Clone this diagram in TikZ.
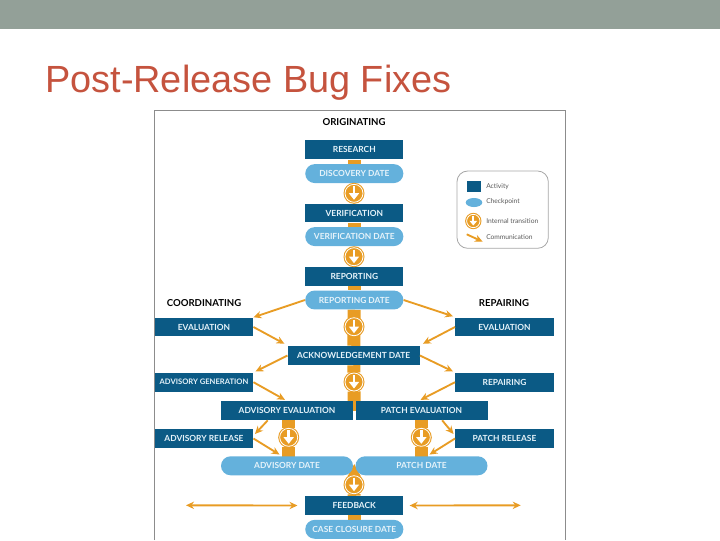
\documentclass[tikz,border=0pt]{standalone}
\usepackage{fontspec}
\setmainfont{Lato}
\newfontfamily\titlefont{Liberation Sans}
\usepackage{xcolor}
\usetikzlibrary{arrows.meta, calc, backgrounds}

\definecolor{bandgray}{HTML}{93A098}
\definecolor{titlered}{HTML}{C5533E}
\definecolor{activityblue}{HTML}{0B5A85}
\definecolor{checkblue}{HTML}{64B1DC}
\definecolor{floworange}{HTML}{E89C24}
\definecolor{textpale}{HTML}{E6F3FA}

\begin{document}
\begin{tikzpicture}[
    x=0.75pt, y=-0.75pt,
    activity/.style={draw=none, fill=activityblue, text=textpale, font=\fontsize{6.3}{7}\selectfont\bfseries, minimum height=14.2pt, inner sep=0pt},
    narrowbox/.style={activity, minimum width=73.6pt},
    sidebox/.style={activity, minimum width=73.8pt},
    widebox/.style={activity, minimum width=99pt},
    checkpoint/.style={narrowbox, fill=checkblue, rounded corners=7.1pt},
    widecheck/.style={checkpoint, minimum width=99pt},
    heading/.style={font=\fontsize{7.2}{8}\selectfont\bfseries, text=black},
    flow/.style={draw=floworange, line width=9.7pt},
    comm/.style={-{Stealth[length=6pt, width=5.5pt]}, draw=floworange, line width=1.4pt},
    transit/.style={circle, draw=floworange, line width=0.8pt, double=white, double distance=0.6pt, fill=floworange, minimum size=13.5pt, inner sep=0pt},
    legendtext/.style={font=\fontsize{5}{6}\selectfont, text=black!65, anchor=west, inner sep=0pt},
]
\useasboundingbox (0,0) rectangle (720,540);

% Slide
\fill[bandgray] (0,0) rectangle (720,29);
\node[anchor=west, inner sep=0pt, text=titlered, font=\titlefont\fontsize{28.4}{32}\selectfont] (title) at (45,82.5) {Post-Release Bug Fixes};
\draw[black!45, line width=0.8pt] (154.5,540) -- (154.5,110.5) -- (565.5,110.5) -- (565.5,540);

% Headings
\node[heading] (originating) at (354,122) {ORIGINATING};
\node[heading] (coordinating) at (204,302.8) {COORDINATING};
\node[heading] (repairing) at (504,302.8) {REPAIRING};

% Centre column
\node[narrowbox] (research) at (354.3,149.8) {RESEARCH};
\node[checkpoint] (ddate) at (354.3,173.6) {DISCOVERY DATE};
\node[narrowbox] (verification) at (354.3,213) {VERIFICATION};
\node[checkpoint] (vdate) at (354.3,236.6) {VERIFICATION DATE};
\node[narrowbox] (reporting) at (354.3,276.3) {REPORTING};
\node[checkpoint] (rdate) at (354.3,300) {REPORTING DATE};
\node[widebox] (ackdate) at (353.7,355.5) {ACKNOWLEDGEMENT DATE};

% Left column
\node[sidebox] (evalc) at (204,327) {EVALUATION};
\node[sidebox, font=\fontsize{5.7}{7}\selectfont\bfseries] (advgen) at (204,382.2) {ADVISORY GENERATION};
\node[widebox] (adveval) at (287,410.6) {ADVISORY EVALUATION};
\node[sidebox] (advrel) at (204,438.5) {ADVISORY RELEASE};
\node[widecheck] (advdate) at (287,465.8) {ADVISORY DATE};

% Right column
\node[sidebox] (evalr) at (504.5,327) {EVALUATION};
\node[sidebox] (repair) at (504.5,382.2) {REPAIRING};
\node[widebox] (patcheval) at (421.5,410.6) {PATCH EVALUATION};
\node[sidebox] (patchrel) at (504.5,438.5) {PATCH RELEASE};
\node[widecheck] (patchdate) at (421.5,465.8) {PATCH DATE};

% Bottom
\node[narrowbox] (feedback) at (354.3,505.5) {FEEDBACK};
\node[checkpoint] (closedate) at (354.3,529.3) {CASE CLOSURE DATE};

% Internal transitions
\foreach \x/\y/\name in {354/193.3/tone, 354/256.7/ttwo, 354/326.7/tthree, 354/382/tfour, 288.7/437.3/tfive, 421.3/437.3/tsix, 354/484.7/tseven} {
    \node[transit] (\name) at (\x,\y) {};
    \draw[white, line width=2pt, -{Triangle[length=5pt, width=7.5pt]}] ($(\name)+(0,-7)$) -- ($(\name)+(0,6.5)$);
}

% Flow bars behind the boxes
\begin{scope}[on background layer]
\draw[flow] (research) -- (ddate);
\draw[flow] (verification) -- (vdate);
\draw[flow] (reporting) -- (rdate);
\draw[flow] (rdate) -- (ackdate);
\draw[flow] (ackdate) -- (tfour);
\draw[flow] (tfour) -- ($(adveval.north east)!0.5!(patcheval.north west)+(0,10)$);
\draw[flow] (tfive) -- (tfive |- adveval);
\draw[flow] (tfive) -- (tfive |- advdate);
\draw[flow] (tsix) -- (tsix |- patcheval);
\draw[flow] (tsix) -- (tsix |- patchdate);
\draw[flow] (tseven) -- (feedback);
\draw[flow] (feedback) -- (closedate);
\fill[floworange] ($(advdate.north east)!0.5!(patchdate.north west)+(0,8)$) -- (347.7,476) -- (347.7,490) -- (360.7,490) -- (360.7,476) -- cycle;
\end{scope}

% Communication
\draw[comm] (rdate.west) -- (evalc.north east);
\draw[comm] (rdate.east) -- ($(evalr.north west)+(-2,-1)$);
\draw[comm] (evalc.east) -- ($(ackdate.north west)+(-3,-2)$);
\draw[comm] (evalr.west) -- ($(ackdate.north east)+(3,-2)$);
\draw[comm] (ackdate.west) -- ($(advgen.north east)+(2,-1)$);
\draw[comm] (ackdate.east) -- ($(repair.north west)+(-2,-1)$);
\draw[comm] (advgen.east) -- ($(adveval.north)+(-2,-1)$);
\draw[comm] (repair.west) -- ($(patcheval.north)+(-1,-1)$);
\draw[comm] ($(adveval.south west)+(47,0)$) -- ($(advrel.east)+(1.5,-4.5)$);
\draw[comm] (advrel.east) -- ($(advdate.north)+(-7.5,-1.5)$);
\draw[comm] ($(patcheval.south east)+(-45.6,0)$) -- ($(patchrel.west)+(-1.5,-4.5)$);
\draw[comm] (patchrel.west) -- ($(patchdate.north)+(8,-1.5)$);
\coordinate (farleft) at (186,505.3);
\coordinate (farright) at (520.7,505.3);
\draw[comm, {Stealth[length=6pt, width=5.5pt]}-{Stealth[length=6pt, width=5.5pt]}] (farleft) -- ($(feedback.west)+(-7.5,0)$);
\draw[comm, {Stealth[length=6pt, width=5.5pt]}-{Stealth[length=6pt, width=5.5pt]}] ($(feedback.east)+(6,0)$) -- (farright);

% Legend
\draw[black!35, line width=0.6pt, rounded corners=8pt] (457,171) rectangle (548.3,248.3);
\fill[activityblue] (466.7,181) rectangle (481,192.3);
\fill[checkblue] (474,202.5) ellipse [x radius=6.2pt, y radius=3.4pt];
\node[transit, minimum size=10pt] (tlegend) at (473.3,221) {};
\draw[white, line width=1.5pt, -{Triangle[length=3.5pt, width=5.5pt]}] ($(tlegend)+(0,-5)$) -- ($(tlegend)+(0,4.5)$);
\coordinate (commstart) at (466.7,234.3);
\coordinate (commend) at (482.7,241.7);
\draw[comm] (commstart) -- (commend);
\node[legendtext] (lactivity) at (486,187) {Activity};
\node[legendtext] (lcheck) at (486,202) {Checkpoint};
\node[legendtext] (ltransit) at (486,221) {Internal transition};
\node[legendtext] (lcomm) at (486,236.7) {Communication};
\end{tikzpicture}
\end{document}
